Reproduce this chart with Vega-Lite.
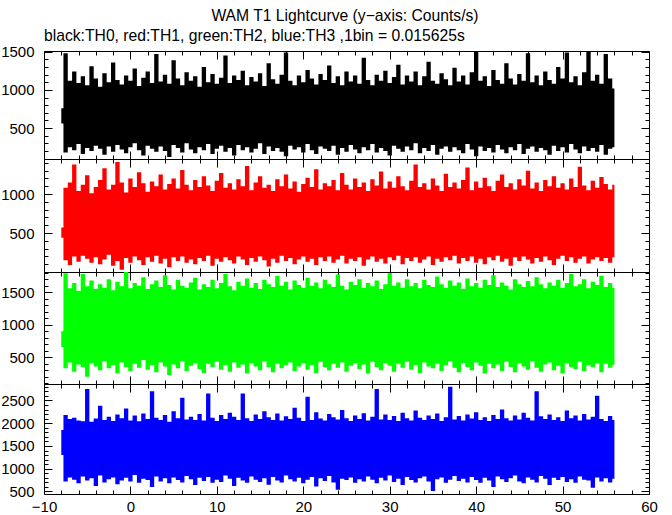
{
"$schema":"https://vega.github.io/schema/vega-lite/v6.json",
"background":"white",
"padding":{"left":0,"top":7,"right":5,"bottom":0},
"title":{"text":"WAM T1 Lightcurve (y−axis: Counts/s)","anchor":"middle","fontSize":15.7,"font":"Liberation Sans","fontWeight":"normal","color":"black","dx":16,"offset":3},
"spacing":0,
"bounds":"flush",
"data":{"values":[
{"t":-8,"l0":560,"h0":760,"l1":440,"h1":570,"l2":660,"h2":900,"l3":1300,"h3":1850},
{"t":-7.5,"l0":180,"h0":1480,"l1":150,"h1":1080,"l2":330,"h2":1790,"l3":720,"h3":2180},
{"t":-7,"l0":250,"h0":1120,"l1":90,"h1":1150,"l2":420,"h2":1560,"l3":810,"h3":2090},
{"t":-6.5,"l0":210,"h0":1240,"l1":200,"h1":1380,"l2":280,"h2":1640,"l3":760,"h3":2120},
{"t":-6,"l0":290,"h0":1090,"l1":130,"h1":1040,"l2":390,"h2":1520,"l3":680,"h3":2060},
{"t":-5.5,"l0":160,"h0":1180,"l1":210,"h1":1120,"l2":350,"h2":1780,"l3":830,"h3":2040},
{"t":-5,"l0":240,"h0":1060,"l1":170,"h1":1240,"l2":200,"h2":1590,"l3":740,"h3":2750},
{"t":-4.5,"l0":200,"h0":1310,"l1":120,"h1":1010,"l2":410,"h2":1680,"l3":790,"h3":2030},
{"t":-4,"l0":270,"h0":1150,"l1":190,"h1":1090,"l2":360,"h2":1550,"l3":620,"h3":2100},
{"t":-3.5,"l0":230,"h0":1040,"l1":100,"h1":1180,"l2":300,"h2":1620,"l3":850,"h3":2380},
{"t":-3,"l0":150,"h0":1220,"l1":160,"h1":1330,"l2":440,"h2":1570,"l3":700,"h3":2070},
{"t":-2.5,"l0":260,"h0":1100,"l1":220,"h1":1060,"l2":330,"h2":1700,"l3":770,"h3":2140},
{"t":-2,"l0":190,"h0":1360,"l1":80,"h1":1120,"l2":380,"h2":1530,"l3":810,"h3":2050},
{"t":-1.5,"l0":280,"h0":1130,"l1":140,"h1":1410,"l2":250,"h2":1660,"l3":660,"h3":2190},
{"t":-1,"l0":220,"h0":1070,"l1":30,"h1":1150,"l2":420,"h2":1590,"l3":740,"h3":2110},
{"t":-0.5,"l0":170,"h0":1190,"l1":180,"h1":1020,"l2":350,"h2":1810,"l3":800,"h3":2320},
{"t":0,"l0":250,"h0":1120,"l1":120,"h1":1200,"l2":290,"h2":1560,"l3":720,"h3":2060},
{"t":0.5,"l0":300,"h0":1280,"l1":200,"h1":1090,"l2":400,"h2":1640,"l3":860,"h3":2170},
{"t":1,"l0":210,"h0":1050,"l1":150,"h1":1280,"l2":340,"h2":1600,"l3":690,"h3":2040},
{"t":1.5,"l0":140,"h0":1160,"l1":90,"h1":1140,"l2":460,"h2":1730,"l3":780,"h3":2210},
{"t":2,"l0":270,"h0":1240,"l1":190,"h1":1030,"l2":310,"h2":1550,"l3":750,"h3":2090},
{"t":2.5,"l0":230,"h0":1090,"l1":130,"h1":1160,"l2":380,"h2":1620,"l3":600,"h3":2700},
{"t":3,"l0":190,"h0":1470,"l1":210,"h1":1100,"l2":270,"h2":1680,"l3":830,"h3":2120},
{"t":3.5,"l0":260,"h0":1110,"l1":110,"h1":1250,"l2":420,"h2":1580,"l3":720,"h3":2070},
{"t":4,"l0":200,"h0":1200,"l1":170,"h1":1060,"l2":360,"h2":1760,"l3":790,"h3":2180},
{"t":4.5,"l0":120,"h0":1080,"l1":60,"h1":1130,"l2":230,"h2":1610,"l3":680,"h3":2030},
{"t":5,"l0":280,"h0":1390,"l1":190,"h1":1200,"l2":390,"h2":1540,"l3":810,"h3":2260},
{"t":5.5,"l0":240,"h0":1150,"l1":140,"h1":1070,"l2":330,"h2":1690,"l3":750,"h3":2110},
{"t":6,"l0":180,"h0":1060,"l1":200,"h1":1310,"l2":440,"h2":1600,"l3":700,"h3":2560},
{"t":6.5,"l0":300,"h0":1230,"l1":120,"h1":1120,"l2":290,"h2":1570,"l3":840,"h3":2080},
{"t":7,"l0":220,"h0":1120,"l1":160,"h1":1050,"l2":370,"h2":1650,"l3":770,"h3":2140},
{"t":7.5,"l0":170,"h0":1180,"l1":100,"h1":1180,"l2":410,"h2":1720,"l3":640,"h3":2070},
{"t":8,"l0":250,"h0":1040,"l1":180,"h1":1090,"l2":320,"h2":1540,"l3":800,"h3":2200},
{"t":8.5,"l0":210,"h0":1300,"l1":140,"h1":1230,"l2":260,"h2":1620,"l3":730,"h3":2060},
{"t":9,"l0":290,"h0":1100,"l1":210,"h1":1110,"l2":400,"h2":1580,"l3":820,"h3":2650},
{"t":9.5,"l0":160,"h0":1210,"l1":80,"h1":1040,"l2":350,"h2":1690,"l3":690,"h3":2120},
{"t":10,"l0":230,"h0":1080,"l1":170,"h1":1170,"l2":430,"h2":1560,"l3":760,"h3":2050},
{"t":10.5,"l0":270,"h0":1160,"l1":130,"h1":1270,"l2":310,"h2":1640,"l3":710,"h3":2180},
{"t":11,"l0":190,"h0":1450,"l1":190,"h1":1080,"l2":380,"h2":1780,"l3":850,"h3":2090},
{"t":11.5,"l0":240,"h0":1090,"l1":150,"h1":1140,"l2":280,"h2":1590,"l3":780,"h3":2230},
{"t":12,"l0":140,"h0":1190,"l1":110,"h1":1060,"l2":420,"h2":1530,"l3":620,"h3":2140},
{"t":12.5,"l0":280,"h0":1130,"l1":200,"h1":1190,"l2":340,"h2":1660,"l3":800,"h3":2070},
{"t":13,"l0":210,"h0":1250,"l1":160,"h1":1100,"l2":390,"h2":1600,"l3":740,"h3":2650},
{"t":13.5,"l0":250,"h0":1060,"l1":90,"h1":1360,"l2":250,"h2":1710,"l3":690,"h3":2110},
{"t":14,"l0":180,"h0":1170,"l1":180,"h1":1050,"l2":410,"h2":1570,"l3":830,"h3":2050},
{"t":14.5,"l0":230,"h0":1110,"l1":130,"h1":1150,"l2":360,"h2":1640,"l3":760,"h3":2190},
{"t":15,"l0":300,"h0":1220,"l1":200,"h1":1230,"l2":300,"h2":1550,"l3":710,"h3":2090},
{"t":15.5,"l0":160,"h0":1050,"l1":150,"h1":1080,"l2":440,"h2":1690,"l3":790,"h3":2260},
{"t":16,"l0":260,"h0":1350,"l1":70,"h1":1120,"l2":350,"h2":1620,"l3":650,"h3":2130},
{"t":16.5,"l0":200,"h0":1140,"l1":170,"h1":1040,"l2":270,"h2":1580,"l3":820,"h3":2070},
{"t":17,"l0":240,"h0":1080,"l1":120,"h1":1190,"l2":400,"h2":1750,"l3":740,"h3":2210},
{"t":17.5,"l0":190,"h0":1200,"l1":210,"h1":1100,"l2":330,"h2":1600,"l3":700,"h3":2060},
{"t":18,"l0":130,"h0":1490,"l1":140,"h1":1250,"l2":380,"h2":1660,"l3":850,"h3":2150},
{"t":18.5,"l0":270,"h0":1120,"l1":180,"h1":1070,"l2":420,"h2":1540,"l3":770,"h3":2090},
{"t":19,"l0":220,"h0":1060,"l1":100,"h1":1160,"l2":290,"h2":1680,"l3":720,"h3":2340},
{"t":19.5,"l0":250,"h0":1190,"l1":160,"h1":1030,"l2":360,"h2":1610,"l3":800,"h3":2120},
{"t":20,"l0":180,"h0":1100,"l1":200,"h1":1130,"l2":410,"h2":1570,"l3":680,"h3":2050},
{"t":20.5,"l0":290,"h0":1260,"l1":130,"h1":1210,"l2":310,"h2":1720,"l3":760,"h3":2580},
{"t":21,"l0":210,"h0":1150,"l1":170,"h1":1090,"l2":380,"h2":1600,"l3":820,"h3":2070},
{"t":21.5,"l0":160,"h0":1070,"l1":90,"h1":1320,"l2":260,"h2":1650,"l3":610,"h3":2240},
{"t":22,"l0":260,"h0":1210,"l1":190,"h1":1060,"l2":430,"h2":1560,"l3":790,"h3":2100},
{"t":22.5,"l0":230,"h0":1130,"l1":140,"h1":1140,"l2":350,"h2":1690,"l3":730,"h3":2060},
{"t":23,"l0":200,"h0":1320,"l1":200,"h1":1100,"l2":300,"h2":1620,"l3":840,"h3":2200},
{"t":23.5,"l0":270,"h0":1090,"l1":120,"h1":1180,"l2":400,"h2":1580,"l3":700,"h3":2130},
{"t":24,"l0":150,"h0":1180,"l1":160,"h1":1050,"l2":340,"h2":1770,"l3":540,"h3":2080},
{"t":24.5,"l0":240,"h0":1060,"l1":210,"h1":1270,"l2":420,"h2":1600,"l3":780,"h3":2290},
{"t":25,"l0":190,"h0":1240,"l1":110,"h1":1120,"l2":280,"h2":1540,"l3":750,"h3":2110},
{"t":25.5,"l0":280,"h0":1110,"l1":170,"h1":1060,"l2":370,"h2":1660,"l3":810,"h3":2050},
{"t":26,"l0":220,"h0":1190,"l1":140,"h1":1200,"l2":410,"h2":1610,"l3":690,"h3":2170},
{"t":26.5,"l0":170,"h0":1080,"l1":190,"h1":1090,"l2":320,"h2":1700,"l3":770,"h3":2090},
{"t":27,"l0":250,"h0":1420,"l1":80,"h1":1150,"l2":390,"h2":1570,"l3":720,"h3":2220},
{"t":27.5,"l0":210,"h0":1130,"l1":160,"h1":1040,"l2":250,"h2":1640,"l3":830,"h3":2060},
{"t":28,"l0":290,"h0":1060,"l1":200,"h1":1190,"l2":430,"h2":1590,"l3":760,"h3":2140},
{"t":28.5,"l0":180,"h0":1200,"l1":130,"h1":1110,"l2":350,"h2":1680,"l3":680,"h3":2750},
{"t":29,"l0":240,"h0":1120,"l1":170,"h1":1290,"l2":300,"h2":1550,"l3":800,"h3":2080},
{"t":29.5,"l0":200,"h0":1250,"l1":110,"h1":1070,"l2":410,"h2":1620,"l3":740,"h3":2190},
{"t":30,"l0":140,"h0":1090,"l1":190,"h1":1160,"l2":370,"h2":1790,"l3":850,"h3":2070},
{"t":30.5,"l0":270,"h0":1170,"l1":150,"h1":1080,"l2":280,"h2":1600,"l3":710,"h3":2160},
{"t":31,"l0":230,"h0":1330,"l1":210,"h1":1230,"l2":400,"h2":1650,"l3":780,"h3":2050},
{"t":31.5,"l0":190,"h0":1070,"l1":100,"h1":1100,"l2":340,"h2":1570,"l3":640,"h3":2230},
{"t":32,"l0":260,"h0":1190,"l1":180,"h1":1050,"l2":430,"h2":1700,"l3":820,"h3":2110},
{"t":32.5,"l0":210,"h0":1110,"l1":140,"h1":1170,"l2":310,"h2":1590,"l3":750,"h3":2060},
{"t":33,"l0":300,"h0":1240,"l1":190,"h1":1380,"l2":380,"h2":1640,"l3":700,"h3":2280},
{"t":33.5,"l0":170,"h0":1060,"l1":120,"h1":1090,"l2":260,"h2":1560,"l3":790,"h3":2120},
{"t":34,"l0":240,"h0":1180,"l1":160,"h1":1140,"l2":420,"h2":1690,"l3":830,"h3":2070},
{"t":34.5,"l0":200,"h0":1370,"l1":200,"h1":1060,"l2":360,"h2":1610,"l3":720,"h3":2170},
{"t":35,"l0":280,"h0":1120,"l1":90,"h1":1200,"l2":330,"h2":1580,"l3":510,"h3":2090},
{"t":35.5,"l0":150,"h0":1080,"l1":170,"h1":1110,"l2":400,"h2":1740,"l3":770,"h3":2210},
{"t":36,"l0":230,"h0":1220,"l1":130,"h1":1040,"l2":290,"h2":1620,"l3":810,"h3":2050},
{"t":36.5,"l0":260,"h0":1140,"l1":190,"h1":1260,"l2":380,"h2":1570,"l3":690,"h3":2130},
{"t":37,"l0":190,"h0":1060,"l1":150,"h1":1090,"l2":440,"h2":1680,"l3":760,"h3":2800},
{"t":37.5,"l0":250,"h0":1290,"l1":210,"h1":1150,"l2":340,"h2":1600,"l3":840,"h3":2080},
{"t":38,"l0":210,"h0":1110,"l1":110,"h1":1070,"l2":270,"h2":1650,"l3":730,"h3":2160},
{"t":38.5,"l0":170,"h0":1190,"l1":180,"h1":1180,"l2":410,"h2":1550,"l3":780,"h3":2060},
{"t":39,"l0":290,"h0":1070,"l1":140,"h1":1340,"l2":350,"h2":1710,"l3":700,"h3":2190},
{"t":39.5,"l0":220,"h0":1230,"l1":200,"h1":1050,"l2":300,"h2":1590,"l3":820,"h3":2100},
{"t":40,"l0":130,"h0":1500,"l1":120,"h1":1160,"l2":420,"h2":1640,"l3":750,"h3":2240},
{"t":40.5,"l0":260,"h0":1120,"l1":170,"h1":1080,"l2":370,"h2":1570,"l3":690,"h3":2070},
{"t":41,"l0":200,"h0":1180,"l1":100,"h1":1210,"l2":250,"h2":1690,"l3":800,"h3":2130},
{"t":41.5,"l0":240,"h0":1050,"l1":190,"h1":1100,"l2":400,"h2":1610,"l3":740,"h3":2050},
{"t":42,"l0":180,"h0":1260,"l1":150,"h1":1040,"l2":330,"h2":1760,"l3":600,"h3":2180},
{"t":42.5,"l0":280,"h0":1130,"l1":210,"h1":1170,"l2":390,"h2":1580,"l3":830,"h3":2090},
{"t":43,"l0":220,"h0":1080,"l1":130,"h1":1250,"l2":290,"h2":1650,"l3":770,"h3":2300},
{"t":43.5,"l0":170,"h0":1350,"l1":170,"h1":1090,"l2":430,"h2":1600,"l3":710,"h3":2110},
{"t":44,"l0":250,"h0":1150,"l1":80,"h1":1140,"l2":350,"h2":1540,"l3":790,"h3":2060},
{"t":44.5,"l0":210,"h0":1070,"l1":190,"h1":1060,"l2":270,"h2":1700,"l3":850,"h3":2170},
{"t":45,"l0":290,"h0":1210,"l1":140,"h1":1190,"l2":410,"h2":1620,"l3":720,"h3":2080},
{"t":45.5,"l0":160,"h0":1120,"l1":200,"h1":1110,"l2":360,"h2":1580,"l3":680,"h3":2230},
{"t":46,"l0":230,"h0":1480,"l1":160,"h1":1300,"l2":310,"h2":1670,"l3":810,"h3":2120},
{"t":46.5,"l0":260,"h0":1100,"l1":110,"h1":1070,"l2":440,"h2":1590,"l3":760,"h3":2060},
{"t":47,"l0":190,"h0":1190,"l1":180,"h1":1150,"l2":340,"h2":1730,"l3":700,"h3":2700},
{"t":47.5,"l0":240,"h0":1060,"l1":130,"h1":1040,"l2":280,"h2":1620,"l3":840,"h3":2150},
{"t":48,"l0":210,"h0":1240,"l1":200,"h1":1180,"l2":390,"h2":1560,"l3":780,"h3":2090},
{"t":48.5,"l0":150,"h0":1130,"l1":150,"h1":1100,"l2":420,"h2":1650,"l3":640,"h3":2190},
{"t":49,"l0":270,"h0":1080,"l1":90,"h1":1230,"l2":300,"h2":1600,"l3":800,"h3":2070},
{"t":49.5,"l0":200,"h0":1300,"l1":170,"h1":1080,"l2":370,"h2":1690,"l3":750,"h3":2130},
{"t":50,"l0":250,"h0":1150,"l1":210,"h1":1140,"l2":250,"h2":1570,"l3":820,"h3":2050},
{"t":50.5,"l0":180,"h0":1490,"l1":140,"h1":1060,"l2":410,"h2":1640,"l3":710,"h3":2280},
{"t":51,"l0":290,"h0":1100,"l1":190,"h1":1200,"l2":350,"h2":1780,"l3":770,"h3":2110},
{"t":51.5,"l0":220,"h0":1180,"l1":120,"h1":1090,"l2":320,"h2":1590,"l3":690,"h3":2170},
{"t":52,"l0":170,"h0":1060,"l1":170,"h1":1350,"l2":430,"h2":1620,"l3":830,"h3":2060},
{"t":52.5,"l0":260,"h0":1230,"l1":200,"h1":1110,"l2":290,"h2":1700,"l3":760,"h3":2200},
{"t":53,"l0":200,"h0":1500,"l1":110,"h1":1050,"l2":380,"h2":1560,"l3":740,"h3":2080},
{"t":53.5,"l0":240,"h0":1120,"l1":160,"h1":1170,"l2":350,"h2":1660,"l3":580,"h3":2140},
{"t":54,"l0":190,"h0":1200,"l1":190,"h1":1080,"l2":410,"h2":1610,"l3":810,"h3":2600},
{"t":54.5,"l0":280,"h0":1080,"l1":140,"h1":1220,"l2":270,"h2":1750,"l3":720,"h3":2090},
{"t":55,"l0":150,"h0":1470,"l1":180,"h1":1130,"l2":400,"h2":1580,"l3":790,"h3":2050},
{"t":55.5,"l0":230,"h0":1150,"l1":120,"h1":1060,"l2":340,"h2":1640,"l3":700,"h3":2160},
{"t":56,"l0":250,"h0":1020,"l1":190,"h1":1120,"l2":380,"h2":1570,"l3":780,"h3":2070}
]},
"vconcat":[
{"width":605,"height":108,
 "title":{"text":"black:TH0, red:TH1, green:TH2, blue:TH3 ,1bin = 0.015625s","anchor":"start","frame":"group","fontSize":15.7,"font":"Liberation Sans","fontWeight":"normal","color":"black","offset":0},
 "resolve":{"axis":{"x":"independent","y":"independent"}},
 "layer":[
  {"mark":{"type":"area","color":"black","clip":true,"interpolate":"step"},
   "encoding":{
    "x":{"field":"t","type":"quantitative","title":null,"scale":{"domain":[-10,60],"nice":false,"zero":false},
      "axis":{"orient":"bottom","values":[-10,-8,-6,-4,-2,0,2,4,6,8,10,12,14,16,18,20,22,24,26,28,30,32,34,36,38,40,42,44,46,48,50,52,54,56,58,60],"labels":false,"tickSize":{"condition":{"test":"datum.value % 10 === 0","value":-8},"value":-4}}},
    "y":{"field":"l0","type":"quantitative","title":null,"scale":{"domain":[95,1510],"nice":false,"zero":false},
      "axis":{"orient":"left","format":"d","values":[100,200,300,400,500,600,700,800,900,1000,1100,1200,1300,1400,1500],"labelPadding":18,"labelExpr":"datum.value % 500 === 0 ? datum.label : ''","tickSize":{"condition":{"test":"datum.value % 500 === 0","value":-8},"value":-4}}},
    "y2":{"field":"h0"}}},
  {"mark":{"type":"point","opacity":0},
   "encoding":{
    "x":{"field":"t","type":"quantitative","title":null,
      "axis":{"orient":"top","values":[-10,-8,-6,-4,-2,0,2,4,6,8,10,12,14,16,18,20,22,24,26,28,30,32,34,36,38,40,42,44,46,48,50,52,54,56,58,60],"labels":false,"tickSize":{"condition":{"test":"datum.value % 10 === 0","value":-8},"value":-4}}},
    "y":{"field":"l0","type":"quantitative","title":null,
      "axis":{"orient":"right","values":[100,200,300,400,500,600,700,800,900,1000,1100,1200,1300,1400,1500],"labels":false,"tickSize":{"condition":{"test":"datum.value % 500 === 0","value":-8},"value":-4}}}}}
 ]},
{"width":605,"height":113,
 "resolve":{"axis":{"x":"independent","y":"independent"}},
 "layer":[
  {"mark":{"type":"area","color":"#ff0000","clip":true,"interpolate":"step"},
   "encoding":{
    "x":{"field":"t","type":"quantitative","title":null,"scale":{"domain":[-10,60],"nice":false,"zero":false},
      "axis":{"orient":"bottom","values":[-10,-8,-6,-4,-2,0,2,4,6,8,10,12,14,16,18,20,22,24,26,28,30,32,34,36,38,40,42,44,46,48,50,52,54,56,58,60],"labels":false,"tickSize":{"condition":{"test":"datum.value % 10 === 0","value":-8},"value":-4}}},
    "y":{"field":"l1","type":"quantitative","title":null,"scale":{"domain":[0,1450],"nice":false,"zero":false},
      "axis":{"orient":"left","format":"d","values":[100,200,300,400,500,600,700,800,900,1000,1100,1200,1300,1400],"labelPadding":18,"labelExpr":"datum.value % 500 === 0 ? datum.label : ''","tickSize":{"condition":{"test":"datum.value % 500 === 0","value":-8},"value":-4}}},
    "y2":{"field":"h1"}}},
  {"mark":{"type":"point","opacity":0},
   "encoding":{
    "x":{"field":"t","type":"quantitative","title":null,
      "axis":{"orient":"top","values":[-10,-8,-6,-4,-2,0,2,4,6,8,10,12,14,16,18,20,22,24,26,28,30,32,34,36,38,40,42,44,46,48,50,52,54,56,58,60],"labels":false,"tickSize":{"condition":{"test":"datum.value % 10 === 0","value":-8},"value":-4}}},
    "y":{"field":"l1","type":"quantitative","title":null,
      "axis":{"orient":"right","values":[100,200,300,400,500,600,700,800,900,1000,1100,1200,1300,1400],"labels":false,"tickSize":{"condition":{"test":"datum.value % 500 === 0","value":-8},"value":-4}}}}}
 ]},
{"width":605,"height":112,
 "resolve":{"axis":{"x":"independent","y":"independent"}},
 "layer":[
  {"mark":{"type":"area","color":"#00ff00","clip":true,"interpolate":"step"},
   "encoding":{
    "x":{"field":"t","type":"quantitative","title":null,"scale":{"domain":[-10,60],"nice":false,"zero":false},
      "axis":{"orient":"bottom","values":[-10,-8,-6,-4,-2,0,2,4,6,8,10,12,14,16,18,20,22,24,26,28,30,32,34,36,38,40,42,44,46,48,50,52,54,56,58,60],"labels":false,"tickSize":{"condition":{"test":"datum.value % 10 === 0","value":-8},"value":-4}}},
    "y":{"field":"l2","type":"quantitative","title":null,"scale":{"domain":[90,1810],"nice":false,"zero":false},
      "axis":{"orient":"left","format":"d","values":[100,200,300,400,500,600,700,800,900,1000,1100,1200,1300,1400,1500,1600,1700,1800],"labelPadding":18,"labelExpr":"datum.value % 500 === 0 ? datum.label : ''","tickSize":{"condition":{"test":"datum.value % 500 === 0","value":-8},"value":-4}}},
    "y2":{"field":"h2"}}},
  {"mark":{"type":"point","opacity":0},
   "encoding":{
    "x":{"field":"t","type":"quantitative","title":null,
      "axis":{"orient":"top","values":[-10,-8,-6,-4,-2,0,2,4,6,8,10,12,14,16,18,20,22,24,26,28,30,32,34,36,38,40,42,44,46,48,50,52,54,56,58,60],"labels":false,"tickSize":{"condition":{"test":"datum.value % 10 === 0","value":-8},"value":-4}}},
    "y":{"field":"l2","type":"quantitative","title":null,
      "axis":{"orient":"right","values":[100,200,300,400,500,600,700,800,900,1000,1100,1200,1300,1400,1500,1600,1700,1800],"labels":false,"tickSize":{"condition":{"test":"datum.value % 500 === 0","value":-8},"value":-4}}}}}
 ]},
{"width":605,"height":110,
 "resolve":{"axis":{"x":"independent","y":"independent"}},
 "layer":[
  {"mark":{"type":"area","color":"#0000ff","clip":true,"interpolate":"step"},
   "encoding":{
    "x":{"field":"t","type":"quantitative","title":null,"scale":{"domain":[-10,60],"nice":false,"zero":false},
      "axis":{"orient":"bottom","values":[-10,-8,-6,-4,-2,0,2,4,6,8,10,12,14,16,18,20,22,24,26,28,30,32,34,36,38,40,42,44,46,48,50,52,54,56,58,60],"labelPadding":13,"labelExpr":"datum.value % 10 === 0 ? datum.label : ''","tickSize":{"condition":{"test":"datum.value % 10 === 0","value":-8},"value":-4}}},
    "y":{"field":"l3","type":"quantitative","title":null,"scale":{"domain":[445,2860],"nice":false,"zero":false},
      "axis":{"orient":"left","format":"d","values":[500,600,700,800,900,1000,1100,1200,1300,1400,1500,1600,1700,1800,1900,2000,2100,2200,2300,2400,2500,2600,2700,2800],"labelPadding":18,"labelExpr":"datum.value % 500 === 0 ? datum.label : ''","tickSize":{"condition":{"test":"datum.value % 500 === 0","value":-8},"value":-4}}},
    "y2":{"field":"h3"}}},
  {"mark":{"type":"point","opacity":0},
   "encoding":{
    "x":{"field":"t","type":"quantitative","title":null,
      "axis":{"orient":"top","values":[-10,-8,-6,-4,-2,0,2,4,6,8,10,12,14,16,18,20,22,24,26,28,30,32,34,36,38,40,42,44,46,48,50,52,54,56,58,60],"labels":false,"tickSize":{"condition":{"test":"datum.value % 10 === 0","value":-8},"value":-4}}},
    "y":{"field":"l3","type":"quantitative","title":null,
      "axis":{"orient":"right","values":[500,600,700,800,900,1000,1100,1200,1300,1400,1500,1600,1700,1800,1900,2000,2100,2200,2300,2400,2500,2600,2700,2800],"labels":false,"tickSize":{"condition":{"test":"datum.value % 500 === 0","value":-8},"value":-4}}}}}
 ]}
],
"config":{
 "view":{"stroke":"black","strokeWidth":1},
 "axis":{"domain":false,"grid":false,"labelFont":"Liberation Sans","labelFontSize":15,"labelColor":"black","tickColor":"black","tickWidth":1,"labelOverlap":false,"labelFlush":false,"labelBound":false}
}
}
